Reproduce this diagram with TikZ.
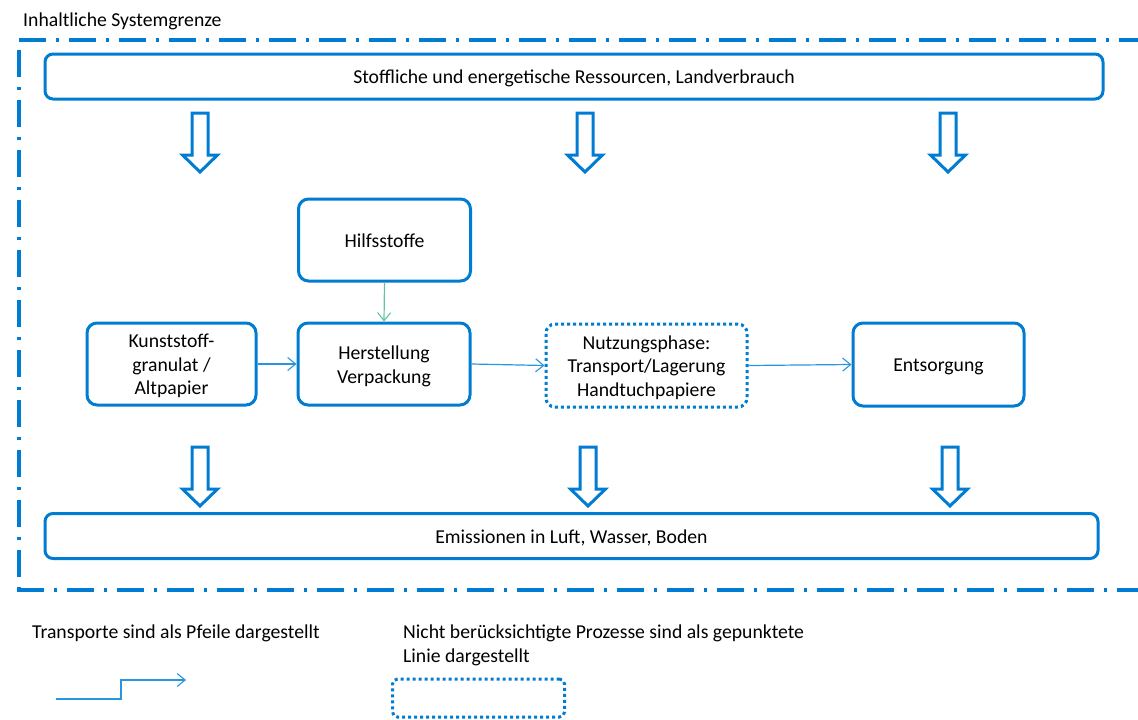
\documentclass[tikz,border=0pt]{standalone}
\usepackage{fontspec}
\setmainfont{Carlito}
\usetikzlibrary{arrows.meta}
\definecolor{mainblue}{RGB}{0,125,210}
\definecolor{thinblue}{RGB}{40,150,220}
\definecolor{tealarrow}{RGB}{95,195,170}
\newcommand{\boxtxt}[1]{\raisebox{-2.5pt}[\height][\depth]{\begin{tabular}{@{}c@{}}#1\end{tabular}}}
\tikzset{
  every node/.style={font=\fontsize{19.7}{23.6}\selectfont, text=black},
  procbox/.style={draw=mainblue, line width=3pt, rounded corners=10pt, inner sep=0pt},
  widebox/.style={draw=mainblue, line width=3pt, rounded corners=8pt, inner sep=0pt},
  dotbox/.style={draw=mainblue, line width=3pt, dash pattern=on 3pt off 3pt, rounded corners=9pt, inner sep=0pt},
  flow/.style={draw=thinblue, line width=1.2pt, -{Straight Barb[length=8pt,width=13pt,line width=1.1pt]}},
  tealflow/.style={draw=tealarrow, line width=1.2pt, -{Straight Barb[length=8pt,width=13pt,line width=1.1pt]}},
  border/.style={draw=mainblue, line width=3.5pt, dash pattern=on 27pt off 10pt on 3pt off 10pt},
  hollow/.pic={\draw[mainblue, line width=3pt, line join=miter] (-8,0) -- (-8,42) -- (-17.5,42) -- (0,59) -- (17.5,42) -- (8,42) -- (8,0) -- cycle;}
}
\begin{document}
\begin{tikzpicture}[x=1pt,y=-1pt]
\useasboundingbox (0,0) rectangle (1138,720);
% system boundary
\node[anchor=west, inner sep=0pt] (title) at (23,21) {Inhaltliche Systemgrenze};
\draw[border] (19,40) -- (1140,40);
\draw[border] (19,50) -- (19,590);
\draw[border] (17,590) -- (1140,590);
% wide boxes
\node[widebox, minimum width=1058pt, minimum height=45pt] (res) at (574,76.5) {\boxtxt{Stoffliche und energetische Ressourcen, Landverbrauch}};
\node[widebox, minimum width=1053pt, minimum height=45pt] (emi) at (571.5,536) {\boxtxt{Emissionen in Luft, Wasser, Boden}};
% hollow arrows
\pic at (200,113) {hollow};
\pic at (585,113) {hollow};
\pic at (948,113) {hollow};
\pic at (200,447) {hollow};
\pic at (588,447) {hollow};
\pic at (950,447) {hollow};
% process boxes
\node[procbox, minimum width=172pt, minimum height=82pt] (hilf) at (384.5,240) {\boxtxt{Hilfsstoffe}};
\node[procbox, minimum width=172pt, minimum height=82pt] (herst) at (384,364) {\boxtxt{Herstellung\\Verpackung}};
\node[procbox, minimum width=169pt, minimum height=82pt] (kunst) at (171.5,364) {\boxtxt{Kunststoff-\\granulat /\\Altpapier}};
\node[dotbox, minimum width=201pt, minimum height=83pt] (nutz) at (646.5,365.5) {\boxtxt{Nutzungsphase:\\Transport/Lagerung\\Handtuchpapiere}};
\node[procbox, minimum width=171pt, minimum height=83pt] (ents) at (938.5,364.5) {\boxtxt{Entsorgung}};
% connectors
\draw[tealflow] (hilf.south) -- (herst.north);
\draw[flow] (kunst.east) -- (herst.west);
\draw[flow] (herst.east) -- (nutz.west);
\draw[flow] (nutz.east) -- (ents.west);
% legend
\node[anchor=west, inner sep=0pt] (leg1) at (32,633.5) {Transporte sind als Pfeile dargestellt};
\node[anchor=north west, inner sep=0pt, align=left, font=\fontsize{19.7}{24}\selectfont] (leg2) at (403,625) {Nicht berücksichtigte Prozesse sind als gepunktete\\Linie dargestellt};
\coordinate (s0) at (56,699);
\coordinate (s1) at (121,699);
\coordinate (s2) at (121,680);
\coordinate (s3) at (186,680);
\draw[flow] (s0) -- (s1) -- (s2) -- (s3);
\node[dotbox, rounded corners=5pt, minimum width=172pt, minimum height=38pt] (legbox) at (478.5,698) {};
\end{tikzpicture}
\end{document}
